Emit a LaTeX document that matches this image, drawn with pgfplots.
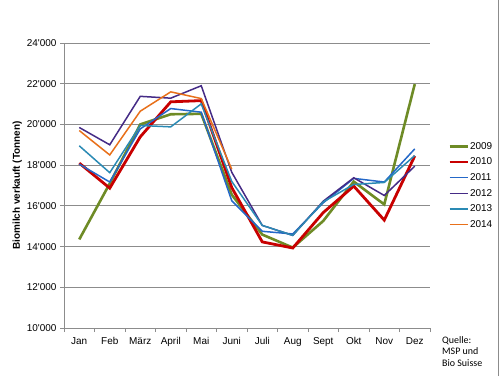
\documentclass[border=0pt]{standalone}
\usepackage{pgfplots}
\pgfplotsset{compat=1.18}
\usepackage{fontspec}
\setmainfont{Liberation Sans}
\newfontfamily\srcfont{Carlito}
\definecolor{cA}{HTML}{6E8B26}
\definecolor{cB}{HTML}{C80000}
\definecolor{cC}{HTML}{2468C8}
\definecolor{cD}{HTML}{452B86}
\definecolor{cE}{HTML}{2A8AB4}
\definecolor{cF}{HTML}{E8701A}
\definecolor{gridc}{HTML}{8C8C8C}
\begin{document}
\begin{tikzpicture}[x=1bp,y=1bp]
\path[use as bounding box] (0,0) rectangle (500,376);
\draw[gridc,line width=0.8bp] (498.5,0) -- (498.5,376);
\begin{axis}[
  at={(64bp,48bp)}, anchor=south west,
  scale only axis, width=366bp, height=285bp,
  xmin=-0.5, xmax=11.5, ymin=10000, ymax=24000,
  scaled y ticks=false,
  axis x line*=bottom, axis y line*=left,
  axis line style={gridc, line width=0.8bp},
  xtick={0,...,11},
  xticklabels={Jan,Feb,M\"arz,April,Mai,Juni,Juli,Aug,Sept,Okt,Nov,Dez},
  major x tick style={draw=none},
  minor xtick={-0.5,0.5,...,11.5},
  minor x tick style={gridc, line width=0.8bp},
  minor tick length=4bp,
  ytick={10000,12000,...,24000},
  yticklabels={10\textquotesingle000,12\textquotesingle000,14\textquotesingle000,16\textquotesingle000,18\textquotesingle000,20\textquotesingle000,22\textquotesingle000,24\textquotesingle000},
  major y tick style={gridc, line width=0.8bp},
  major tick length=4bp,
  tick align=outside,
  ymajorgrids, grid style={gridc, line width=0.8bp},
  ticklabel style={font=\fontsize{10}{12}\selectfont, black},
  xticklabel style={yshift=-2bp},
  ylabel={\bfseries Biomilch verkauft (Tonnen)},
  ylabel style={font=\fontsize{10}{12}\selectfont, yshift=-2bp},
  legend style={at={(1,0.5)}, anchor=west, xshift=18bp, draw=none, fill=none,
    font=\fontsize{10}{12}\selectfont, row sep=5.2bp, inner sep=0pt,
    nodes={inner sep=1bp}},
  legend cell align=left,
  legend image code/.code={\draw[#1] (0cm,0cm) -- (18bp,0cm);},
  clip=false,
]
\addplot[cA, line width=2.6bp] coordinates {(0,14350)(1,17100)(2,20000)(3,20500)(4,20520)(5,16550)(6,14590)(7,13950)(8,15260)(9,17190)(10,16070)(11,21980)};
\addplot[cB, line width=2.8bp] coordinates {(0,18100)(1,16870)(2,19390)(3,21110)(4,21170)(5,16900)(6,14230)(7,13930)(8,15670)(9,16970)(10,15300)(11,18450)};
\addplot[cC, line width=1.5bp] coordinates {(0,18050)(1,17170)(2,19780)(3,20780)(4,20600)(5,16250)(6,14750)(7,14620)(8,16150)(9,17350)(10,17170)(11,18800)};
\addplot[cD, line width=1.5bp] coordinates {(0,19850)(1,19000)(2,21380)(3,21290)(4,21900)(5,17650)(6,15040)(7,14550)(8,16230)(9,17380)(10,16510)(11,17950)};
\addplot[cE, line width=1.5bp] coordinates {(0,18950)(1,17630)(2,19950)(3,19880)(4,21010)(5,17200)(6,15040)(7,14550)(8,16200)(9,17050)(10,17150)(11,18470)};
\addplot[cF, line width=1.5bp] coordinates {(0,19700)(1,18500)(2,20650)(3,21600)(4,21270)(5,17800)};
\legend{2009,2010,2011,2012,2013,2014}
\end{axis}
\node[anchor=north west, align=left, inner sep=0pt, font=\srcfont\fontsize{10}{11.8}\selectfont] at (442bp,40bp) {Quelle:\\MSP und\\Bio Suisse};
\end{tikzpicture}
\end{document}
